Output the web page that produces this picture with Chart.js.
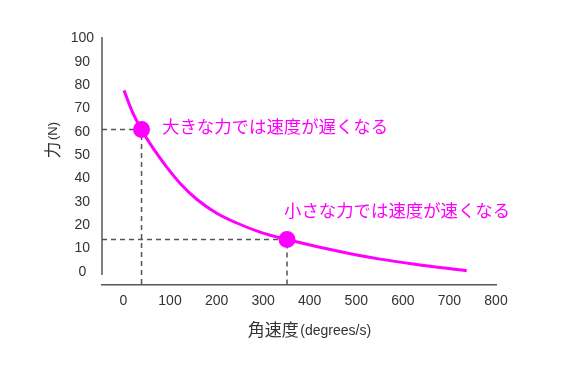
<!DOCTYPE html>
<html>
<head>
<meta charset="utf-8">
<script src="https://cdn.jsdelivr.net/npm/chart.js@4.4.1/dist/chart.umd.min.js"></script>
<style>
  html, body { margin: 0; padding: 0; background: #ffffff; }
  #wrap { width: 563px; height: 366px; position: relative; }
</style>
</head>
<body>
<div id="wrap"><canvas id="c"></canvas></div>
<script>
// ---- data ----
const curveSpeed = [1.3, 18.5, 38.9, 63.6, 93.0, 121.5, 157.4, 200.3, 243.3, 293.3, 351.3, 479.5, 551, 621.9, 737.2];
const curveForce = [77.8, 68.9, 60.9, 53.0, 44.9, 38.0, 31.1, 25.1, 20.9, 17.0, 13.8, 8.0, 5.4, 3.3, 0.4];
const markSpeed = [38.9, 351.3];
const markForce = [61.0, 13.8];
const markLabels = ['大きな力では速度が遅くなる', '小さな力では速度が速くなる'];
const xTicks = [0, 100, 200, 300, 400, 500, 600, 700, 800];
const yTicks = [0, 10, 20, 30, 40, 50, 60, 70, 80, 90, 100];
const xTitleMain = '角速度';
const xTitleUnit = '(degrees/s)';
const yTitleMain = '力';
const yTitleUnit = '(N)';

const X_MIN = -46, X_MAX = 800, Y_MIN = -5.7, Y_MAX = 100.7;
const MAGENTA = '#ff00ff';
const TEXT = '#333333';
const AXIS = '#555555';

const curveData = curveSpeed.map((x, i) => ({ x: x, y: curveForce[i] }));
const markData = markSpeed.map((x, i) => ({ x: x, y: markForce[i] }));
const guideSets = markSpeed.map((x, i) => ({
  type: 'line',
  data: [{ x: X_MIN, y: markForce[i] }, { x: x, y: markForce[i] }, { x: x, y: Y_MIN }],
  borderColor: AXIS,
  borderWidth: 1.5,
  borderDash: [5, 4],
  pointRadius: 0,
  fill: false,
  tension: 0,
  order: 3
}));

const decorPlugin = {
  id: 'decor',
  afterDatasetsDraw(chart) {
    const ctx = chart.ctx;
    const xs = chart.scales.x, ys = chart.scales.y;
    const area = chart.chartArea;
    ctx.save();
    // y axis line (stops short of the x axis)
    ctx.strokeStyle = AXIS;
    ctx.lineWidth = 1.5;
    ctx.beginPath();
    ctx.moveTo(area.left, area.top);
    ctx.lineTo(area.left, ys.getPixelForValue(-1.4));
    ctx.stroke();

    // annotations next to the marked points
    ctx.fillStyle = MAGENTA;
    ctx.font = '17.4px "Noto Sans CJK JP"';
    ctx.textBaseline = 'middle';
    ctx.textAlign = 'left';
    const offs = [[20.5, -3.5], [-3, -29]];
    markData.forEach((p, i) => {
      const px = xs.getPixelForValue(p.x), py = ys.getPixelForValue(p.y);
      ctx.fillText(markLabels[i], px + offs[i][0], py + offs[i][1]);
    });

    // x title (mixed sizes), centred on the tick range
    ctx.fillStyle = TEXT;
    const fMain = '17px "Noto Sans CJK JP"';
    const fUnit = '14px "Liberation Sans", Arial, sans-serif';
    ctx.font = fMain; const w1 = ctx.measureText(xTitleMain).width;
    ctx.font = fUnit; const w2 = ctx.measureText(xTitleUnit).width;
    const cx = xs.getPixelForValue((xTicks[0] + xTicks[xTicks.length - 1]) / 2);
    let sx = cx - (w1 + w2) / 2 - 1;
    const ty = 330;
    ctx.font = fMain; ctx.fillText(xTitleMain, sx, ty);
    ctx.font = fUnit; ctx.fillText(xTitleUnit, sx + w1 + 1.5, ty + 1);

    // y title rotated
    const fUnitY = '13px "Liberation Sans", Arial, sans-serif';
    ctx.font = fMain; const v1 = ctx.measureText(yTitleMain).width;
    ctx.font = fUnitY; const v2 = ctx.measureText(yTitleUnit).width;
    ctx.translate(53, 141);
    ctx.rotate(-Math.PI / 2);
    const sy = -(v1 + v2) / 2;
    ctx.font = fMain; ctx.fillText(yTitleMain, sy, 0);
    ctx.font = fUnitY; ctx.fillText(yTitleUnit, sy + v1 + 1.5, 0.5);
    ctx.restore();
  }
};

new Chart(document.getElementById('c'), {
  type: 'line',
  data: {
    datasets: [
      {
        data: curveData,
        borderColor: MAGENTA,
        borderWidth: 3,
        pointRadius: 0,
        fill: false,
        cubicInterpolationMode: 'monotone',
        order: 2
      },
      {
        data: markData,
        showLine: false,
        pointRadius: 8.5,
        pointBackgroundColor: MAGENTA,
        pointBorderColor: MAGENTA,
        pointBorderWidth: 0,
        order: 1
      },
      ...guideSets
    ]
  },
  options: {
    responsive: true,
    maintainAspectRatio: false,
    animation: false,
    events: [],
    layout: { padding: { top: 37, right: 67, bottom: 0, left: 0 } },
    plugins: { legend: { display: false }, tooltip: { enabled: false }, title: { display: false } },
    scales: {
      x: {
        type: 'linear',
        min: X_MIN,
        max: X_MAX,
        afterBuildTicks: (s) => { s.ticks = xTicks.map(v => ({ value: v })); },
        afterFit: (s) => { s.height = 81; },
        grid: { display: false, drawTicks: false },
        border: { display: true, color: AXIS, width: 1.5 },
        ticks: {
          color: TEXT,
          padding: 8,
          maxRotation: 0,
          autoSkip: false,
          font: { family: '"Liberation Sans", Arial, sans-serif', size: 14 }
        }
      },
      y: {
        type: 'linear',
        min: Y_MIN,
        max: Y_MAX,
        afterBuildTicks: (s) => { s.ticks = yTicks.map(v => ({ value: v })); },
        afterFit: (s) => { s.width = 102; },
        grid: { display: false, drawTicks: false },
        border: { display: false },
        ticks: {
          color: TEXT,
          padding: 8,
          crossAlign: 'center',
          autoSkip: false,
          font: { family: '"Liberation Sans", Arial, sans-serif', size: 14 }
        }
      }
    }
  },
  plugins: [decorPlugin]
});
</script>
</body>
</html>
